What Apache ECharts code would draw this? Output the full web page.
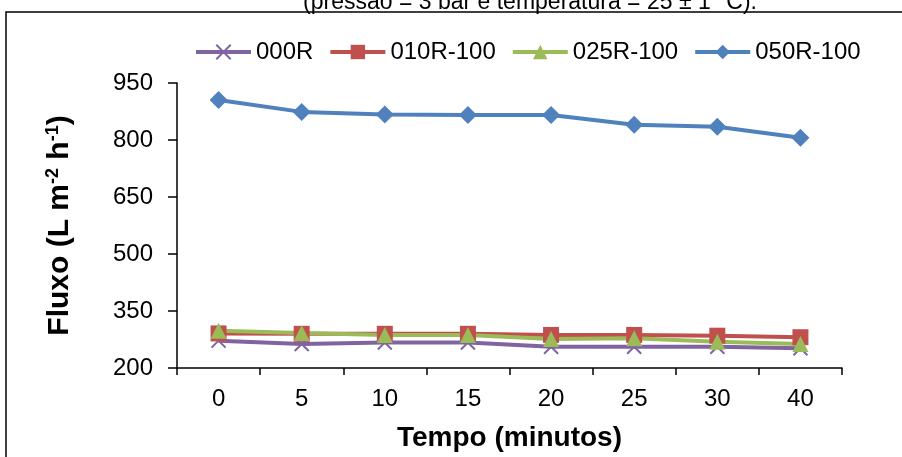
<!DOCTYPE html>
<html>
<head>
<meta charset="utf-8">
<script src="https://cdn.jsdelivr.net/npm/echarts@6/dist/echarts.min.js"></script>
<style>
	html, body { margin: 0; padding: 0; background: #fff; }
	#chartDom { width: 902px; height: 457px; }
</style>
</head>
<body>
<div id="chartDom"></div>
<script type="text/javascript">
	// 数据
	var categories = [ '0', '5', '10', '15', '20', '25', '30', '40' ];
	var s000R = [ 272, 263, 267, 267, 256, 256, 256, 252 ];
	var s010R = [ 291, 290, 290, 290, 287, 287, 285, 281 ];
	var s025R = [ 298, 292, 287, 287, 276, 278, 269, 263 ];
	var s050R = [ 905, 874, 867, 866, 866, 840, 835, 806 ];
	var seriesNames = [ '000R', '010R-100', '025R-100', '050R-100' ];
	var colors = [ '#8064A2', '#C0504D', '#9BBB59', '#4F81BD' ];

	var font = 'Liberation Sans, Arial, sans-serif';
	var myChart = echarts.init(document.getElementById('chartDom'));

	function makeSeries(name, data, color, symbol, size) {
		return {
			name : name,
			type : 'line',
			data : data,
			symbol : symbol,
			symbolSize : size,
			showAllSymbol : true,
			lineStyle : { color : color, width : 4 },
			itemStyle : { color : color, borderColor : color, borderWidth : symbol.indexOf('path') === 0 ? 2 : 0 }
		};
	}

	var option = {
		animation : false,
		color : colors,
		title : {
			text : '(pressão = 3 bar e temperatura = 25 ± 1 °C).',
			left : 525,
			textAlign : 'center',
			top : -14,
			textStyle : { fontFamily : font, fontSize : 23, fontWeight : 'normal', color : '#000' }
		},
		graphic : [ {
			type : 'rect',
			shape : { x : 6, y : 12, width : 910, height : 460 },
			style : { fill : 'none', stroke : '#000', lineWidth : 1.5 },
			silent : true
		} ],
		legend : {
			data : seriesNames,
			left : 194,
			top : 40,
			padding : 0,
			itemWidth : 55,
			itemHeight : 18,
			itemGap : 15,
			lineStyle : { width : 4 },
			textStyle : { fontFamily : font, fontSize : 24, color : '#000' }
		},
		grid : { left : 177, right : 60, top : 83, bottom : 88 },
		xAxis : {
			type : 'category',
			data : categories,
			boundaryGap : true,
			name : 'Tempo (minutos)',
			nameLocation : 'middle',
			nameGap : 56,
			nameTextStyle : { fontFamily : font, fontSize : 28, fontWeight : 'bold', color : '#000' },
			axisLine : { lineStyle : { color : '#000', width : 1.5 } },
			axisTick : { show : true, length : 7, lineStyle : { color : '#000', width : 1.5 } },
			axisLabel : { fontFamily : font, fontSize : 24, color : '#000', margin : 19 },
			splitLine : { show : false }
		},
		yAxis : {
			type : 'value',
			min : 200,
			max : 950,
			interval : 150,
			name : 'Fluxo (L m{sup|-2} h{sup|-1})',
			nameLocation : 'middle',
			nameGap : 102,
			nameRotate : 90,
			nameTextStyle : {
				fontFamily : font, fontSize : 30, fontWeight : 'bold', color : '#000',
				rich : {
					sup : { fontFamily : font, fontSize : 18, fontWeight : 'bold', color : '#000', padding : [ 0, 0, 13, 0 ] }
				}
			},
			axisLine : { show : true, lineStyle : { color : '#000', width : 1.5 } },
			axisTick : { show : true, length : 9, lineStyle : { color : '#000', width : 1.5 } },
			axisLabel : { fontFamily : font, fontSize : 24, color : '#000', margin : 24 },
			splitLine : { show : false }
		},
		series : [
			makeSeries(seriesNames[0], s000R, colors[0], 'path://M0,0L10,10M10,0L0,10', 14),
			makeSeries(seriesNames[1], s010R, colors[1], 'rect', 16),
			makeSeries(seriesNames[2], s025R, colors[2], 'triangle', 16),
			makeSeries(seriesNames[3], s050R, colors[3], 'diamond', 18)
		]
	};
	myChart.setOption(option);
</script>
</body>
</html>
